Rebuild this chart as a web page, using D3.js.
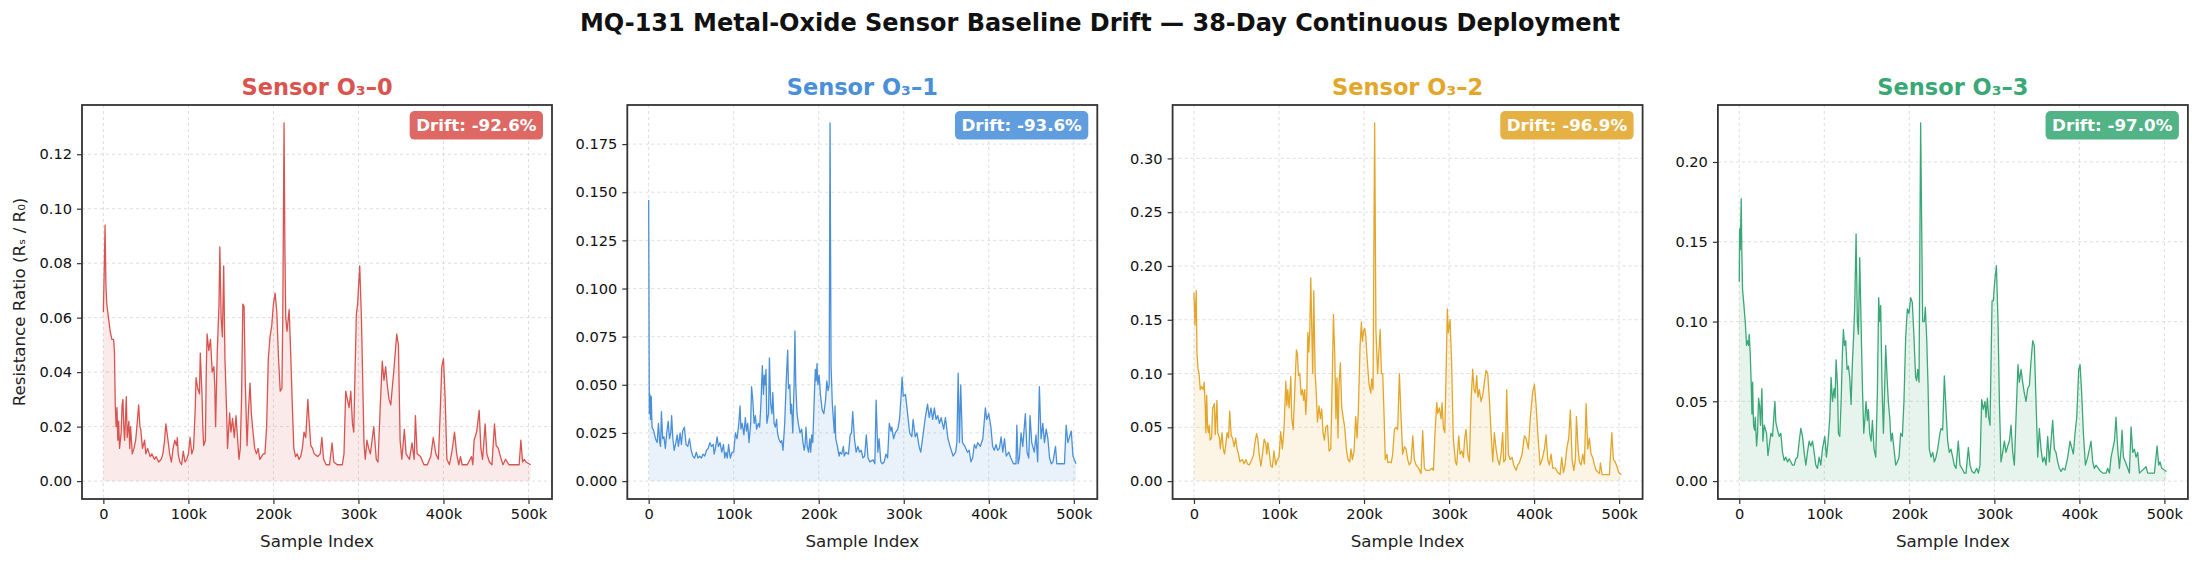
<!DOCTYPE html>
<html>
<head>
<meta charset="utf-8">
<script src="https://cdn.jsdelivr.net/npm/d3@7"></script>
<style>
  body { margin: 0; background: #fff; }
  svg { font-family: "DejaVu Sans", sans-serif; }
</style>
</head>
<body>
<svg id="chart" width="2200" height="563"></svg>
<script>
// sample index in thousands, resistance ratio Rs/R0
const sensor0 = [[0,0.062],[1,0.077],[2,0.094],[3,0.072],[4,0.065],[6,0.060],[8,0.055],[10,0.052],[12,0.052],[13,0.048],[14,0.028],[15,0.020],[16,0.027],[17,0.015],[18,0.022],[19,0.012],[21,0.018],[22,0.028],[23,0.030],[24,0.020],[25,0.015],[27,0.031],[28,0.016],[30,0.022],[31,0.012],[32,0.020],[34,0.010],[36,0.012],[38,0.015],[40,0.022],[41.5,0.028],[43,0.020],[44,0.019],[46,0.012],[48.5,0.015],[50,0.010],[52,0.012],[55,0.009],[57,0.010],[60,0.008],[62,0.009],[65,0.007],[68,0.008],[70,0.010],[72,0.015],[73.5,0.021],[76,0.015],[78,0.010],[80,0.007],[82,0.012],[84,0.015],[86,0.013],[87,0.016],[88,0.010],[90,0.007],[92,0.006],[94,0.011],[96,0.007],[98,0.008],[100,0.010],[102,0.016],[104,0.010],[106,0.012],[108,0.026],[109,0.038],[111,0.034],[113,0.032],[114,0.047],[116,0.032],[117,0.020],[118,0.013],[120,0.015],[121,0.040],[122,0.054],[124,0.048],[126,0.052],[128,0.040],[130,0.042],[131,0.035],[132,0.020],[134,0.048],[136,0.065],[137,0.086],[138.5,0.060],[140,0.053],[141.5,0.079],[143,0.045],[145,0.025],[146,0.012],[148.5,0.025],[150,0.018],[152,0.023],[154,0.016],[156,0.024],[159.5,0.008],[161,0.012],[162.5,0.030],[164,0.065],[165.5,0.064],[167,0.035],[169,0.013],[170.5,0.025],[172.5,0.036],[174,0.025],[176,0.018],[178,0.012],[180,0.010],[182,0.012],[184,0.008],[186,0.009],[188,0.010],[190,0.010],[192,0.020],[194,0.045],[196,0.053],[198,0.057],[200,0.065],[202,0.069],[204,0.062],[206,0.045],[208,0.033],[210,0.034],[211,0.060],[212.5,0.1315],[213.5,0.085],[214.5,0.060],[216,0.055],[218.5,0.063],[220,0.050],[222,0.030],[224,0.012],[226,0.009],[228,0.010],[230,0.008],[232,0.009],[234,0.012],[236,0.018],[238,0.016],[240.5,0.030],[242,0.022],[244,0.013],[246,0.012],[248,0.010],[252,0.009],[255,0.010],[257,0.016],[259,0.008],[262,0.006],[266,0.006],[269,0.014],[271,0.007],[275,0.006],[281,0.006],[283,0.010],[285,0.033],[287,0.030],[289,0.027],[291,0.033],[293,0.021],[294.5,0.018],[296,0.040],[297.5,0.061],[299,0.065],[301.5,0.079],[303.5,0.060],[306.5,0.014],[308,0.008],[310,0.015],[312,0.012],[314,0.010],[318,0.020],[321,0.008],[323,0.007],[326,0.030],[328,0.044],[330,0.037],[332,0.042],[334,0.035],[336,0.030],[338,0.028],[340,0.035],[342,0.042],[345,0.054],[347,0.050],[349,0.015],[351,0.008],[354,0.019],[356,0.010],[360,0.008],[363,0.014],[365.5,0.008],[367,0.024],[369,0.010],[373,0.009],[377,0.006],[381,0.006],[385,0.009],[388,0.016],[391,0.010],[394,0.008],[396,0.024],[398,0.042],[400,0.045],[402,0.030],[404,0.008],[407,0.006],[410,0.011],[413,0.018],[415.5,0.010],[418,0.006],[420,0.009],[422,0.006],[428,0.006],[433,0.009],[434.5,0.006],[436,0.015],[439,0.018],[442,0.026],[444,0.012],[446,0.008],[449,0.021],[451,0.010],[454,0.007],[457,0.006],[460,0.021],[462,0.013],[464.5,0.012],[467,0.009],[470,0.006],[473,0.008],[477,0.006],[485,0.006],[489,0.006],[491,0.015],[493,0.007],[495,0.008],[497,0.007],[502.5,0.006]];

const sensor1 = [[0,0.146],[0.8,0.035],[1.5,0.045],[2.2,0.032],[3,0.044],[4,0.028],[6,0.026],[8,0.022],[10,0.020],[11.5,0.030],[13,0.020],[14,0.018],[15,0.036],[16.5,0.022],[18,0.023],[19.6,0.017],[21.5,0.026],[23,0.031],[24.5,0.022],[26,0.025],[27,0.034],[28.5,0.022],[30,0.016],[32,0.020],[33.5,0.024],[35,0.018],[37,0.025],[38.5,0.019],[40,0.026],[42,0.028],[44,0.019],[46,0.018],[48,0.022],[50,0.016],[52,0.013],[54,0.012],[56,0.015],[58,0.012],[60,0.013],[62,0.012],[64,0.014],[66,0.013],[68,0.016],[70,0.017],[72,0.020],[74,0.018],[76,0.019],[77,0.014],[78.5,0.017],[80.5,0.023],[82,0.018],[84,0.020],[86,0.015],[88,0.019],[89.5,0.012],[91,0.015],[92.5,0.012],[94,0.019],[96,0.012],[98,0.015],[100,0.015],[102,0.025],[104,0.022],[106,0.030],[107.5,0.039],[108.5,0.027],[110,0.030],[112,0.024],[113.7,0.033],[115,0.026],[116.5,0.030],[118,0.020],[120,0.030],[121,0.049],[122.5,0.042],[124,0.030],[125.5,0.034],[127,0.027],[129,0.030],[130.5,0.028],[132,0.040],[133.7,0.060],[135,0.045],[136,0.055],[137,0.050],[138,0.058],[139,0.030],[141,0.035],[142,0.064],[143.5,0.040],[145,0.035],[146,0.046],[147.5,0.030],[149,0.028],[150.5,0.032],[151.5,0.025],[153,0.022],[155,0.020],[156.5,0.021],[158,0.016],[160,0.030],[162,0.054],[163.5,0.068],[164.5,0.048],[166,0.050],[167,0.035],[168,0.040],[169.5,0.025],[171,0.050],[172,0.078],[173,0.050],[174.5,0.035],[176,0.030],[178,0.025],[180,0.027],[181.5,0.020],[183,0.016],[184,0.019],[185,0.028],[186.5,0.018],[188,0.015],[189.5,0.022],[190.5,0.015],[191.8,0.024],[193,0.020],[195,0.046],[196,0.058],[197,0.052],[198,0.061],[199,0.050],[200.5,0.055],[202,0.045],[204,0.037],[206,0.035],[208,0.042],[209.5,0.052],[211,0.047],[212.3,0.050],[213.3,0.186],[214.5,0.060],[216,0.040],[218.4,0.025],[219.2,0.039],[220,0.022],[222,0.018],[224,0.013],[225,0.015],[227,0.014],[229,0.018],[230,0.013],[232,0.015],[235,0.014],[237,0.024],[238.5,0.025],[240,0.036],[242,0.022],[244,0.015],[246,0.018],[248,0.015],[250,0.016],[252,0.012],[254,0.013],[256,0.024],[258,0.012],[260,0.010],[264,0.011],[266,0.009],[267.5,0.042],[269.5,0.015],[271,0.022],[273,0.010],[275,0.009],[277,0.010],[279,0.014],[281,0.012],[283,0.030],[285,0.026],[286,0.028],[288,0.022],[290,0.025],[293,0.027],[295,0.032],[297,0.045],[298,0.054],[299.5,0.044],[302,0.045],[304.5,0.035],[307,0.025],[309.5,0.023],[311,0.032],[313.5,0.023],[315.5,0.025],[318,0.018],[320,0.015],[323,0.025],[325,0.032],[328,0.040],[330,0.033],[332,0.038],[334,0.032],[336,0.038],[338,0.032],[340,0.034],[342,0.030],[344,0.033],[347,0.027],[349,0.033],[352,0.022],[354.5,0.018],[358,0.013],[361,0.015],[362.5,0.020],[364,0.056],[365.5,0.020],[367,0.050],[369,0.020],[372,0.018],[375,0.015],[377,0.016],[379,0.010],[381,0.012],[383,0.019],[385,0.017],[387,0.020],[390,0.018],[393,0.022],[396,0.038],[397.5,0.032],[400,0.035],[402.5,0.028],[404.5,0.018],[406.5,0.016],[408.5,0.019],[410.5,0.016],[412.5,0.017],[414.5,0.023],[416.5,0.015],[418.5,0.022],[420.5,0.013],[423.5,0.015],[426,0.012],[429,0.009],[432,0.009],[433,0.029],[434.5,0.009],[436,0.012],[438,0.025],[440,0.018],[443,0.035],[445,0.015],[447,0.012],[448.5,0.034],[450.5,0.020],[453.5,0.015],[455.5,0.024],[457.5,0.010],[459.5,0.049],[461.5,0.022],[463.5,0.030],[465.5,0.020],[467.5,0.027],[469.5,0.022],[471.5,0.012],[473.5,0.009],[475.5,0.010],[478.5,0.018],[480,0.009],[483,0.009],[489,0.009],[491,0.029],[493,0.020],[495,0.023],[497,0.026],[499,0.013],[502.5,0.009]];

const sensor2 = [[0,0.175],[1.2,0.145],[2.7,0.177],[3.5,0.120],[4.7,0.105],[6,0.100],[7.4,0.085],[9,0.088],[11,0.085],[12,0.092],[13.3,0.068],[14,0.045],[15,0.080],[16,0.050],[17,0.045],[18,0.052],[19,0.038],[20.7,0.040],[22,0.068],[24,0.072],[25,0.043],[27,0.075],[28,0.045],[30,0.040],[31,0.030],[33,0.045],[34.5,0.030],[36,0.025],[37.5,0.035],[39,0.045],[40.7,0.040],[42,0.065],[43.8,0.042],[45.4,0.040],[47.3,0.032],[49,0.040],[50.8,0.030],[52.4,0.025],[54,0.018],[57,0.020],[59,0.016],[61,0.020],[63,0.016],[65,0.015],[68,0.020],[70,0.024],[71.6,0.035],[73.6,0.044],[75,0.040],[76.7,0.025],[78.7,0.014],[80.6,0.025],[82.6,0.039],[84.5,0.035],[85.7,0.025],[86.9,0.036],[88.4,0.028],[90.4,0.014],[92.3,0.013],[94,0.028],[96.2,0.015],[98,0.020],[100,0.022],[102,0.046],[104,0.030],[106,0.050],[108,0.093],[109.2,0.070],[110.3,0.085],[111.9,0.068],[113.9,0.097],[115,0.058],[116.7,0.048],[118.6,0.085],[120.5,0.122],[121.7,0.118],[122.9,0.098],[124.5,0.100],[126,0.080],[127.6,0.085],[129,0.075],[130.3,0.085],[131.5,0.062],[132.7,0.080],[133.9,0.138],[135,0.120],[136.2,0.140],[137.4,0.189],[138.6,0.140],[139.7,0.100],[140.9,0.177],[142.5,0.100],[144,0.080],[145.2,0.055],[147.1,0.070],[148.7,0.058],[150.3,0.067],[151.8,0.045],[153.4,0.038],[155,0.050],[157,0.052],[158.9,0.028],[160.9,0.030],[162.8,0.100],[164,0.155],[165.5,0.120],[167,0.058],[168.2,0.096],[169.4,0.040],[170.6,0.090],[172.2,0.110],[173.7,0.070],[175.3,0.060],[177.3,0.050],[179.2,0.030],[181.2,0.020],[183.2,0.018],[184.7,0.030],[186.3,0.020],[188.3,0.028],[190.2,0.060],[191.8,0.040],[193.3,0.065],[195.3,0.125],[196.9,0.148],[198.1,0.130],[199.6,0.140],[200.8,0.142],[202,0.135],[204,0.110],[205.9,0.090],[207.9,0.082],[209,0.095],[210.6,0.085],[212.5,0.333],[214,0.140],[216,0.100],[219,0.141],[220.4,0.100],[222,0.100],[224,0.050],[225,0.020],[227,0.025],[228,0.017],[230,0.018],[232,0.017],[233.7,0.025],[235.7,0.048],[237.6,0.050],[239.6,0.048],[241.6,0.100],[243.5,0.060],[245.5,0.025],[247.5,0.032],[249.4,0.030],[251.4,0.020],[253.3,0.015],[255.3,0.018],[257.3,0.042],[259.2,0.020],[261.2,0.015],[264.3,0.012],[267,0.007],[269,0.047],[271,0.012],[273,0.010],[277,0.010],[280,0.012],[281.6,0.010],[283.5,0.045],[285.5,0.073],[286.7,0.063],[288.6,0.068],[290.6,0.058],[291.8,0.073],[293.3,0.050],[295,0.045],[296.5,0.100],[298,0.160],[299.2,0.138],[301.2,0.150],[303,0.110],[305,0.040],[307.5,0.018],[309,0.015],[311.4,0.042],[313,0.025],[315,0.028],[316.9,0.022],[318.4,0.040],[320,0.048],[322,0.025],[323.9,0.018],[325.9,0.075],[327.8,0.104],[329.4,0.085],[331,0.082],[332.5,0.098],[334,0.078],[335.7,0.085],[337.6,0.074],[339.6,0.080],[341.6,0.092],[343.5,0.103],[345.5,0.100],[347.5,0.075],[349.4,0.045],[351.4,0.018],[353.3,0.045],[355.3,0.030],[357.3,0.020],[359.2,0.015],[361.2,0.025],[363.1,0.045],[364.3,0.018],[366.3,0.020],[367.8,0.085],[369.8,0.025],[371.8,0.020],[374.1,0.022],[376,0.015],[378.8,0.010],[380.8,0.015],[382.7,0.017],[385.9,0.025],[388.6,0.042],[390.6,0.040],[393.3,0.030],[395.7,0.060],[398.4,0.083],[400.4,0.090],[402.4,0.070],[404.3,0.045],[407,0.015],[409.4,0.020],[412.2,0.030],[414.1,0.043],[416.1,0.020],[418,0.015],[420,0.025],[422,0.012],[425,0.012],[427.8,0.008],[430.6,0.006],[432.5,0.022],[434.5,0.008],[436.5,0.015],[438.4,0.030],[440.8,0.040],[442.7,0.066],[444.7,0.020],[446.7,0.010],[448.6,0.020],[449.8,0.060],[451.8,0.030],[453.3,0.018],[455.3,0.015],[457.3,0.025],[459.2,0.016],[461.2,0.072],[463.1,0.030],[465,0.040],[467,0.025],[469,0.022],[471,0.015],[473,0.010],[476.9,0.007],[478,0.017],[480,0.006],[488.6,0.006],[491.4,0.045],[493.3,0.020],[495.3,0.018],[497.3,0.014],[499.6,0.008],[502.5,0.006]];

const sensor3 = [[0,0.125],[0.4,0.158],[1.2,0.145],[2.3,0.177],[3.1,0.140],[3.9,0.120],[5.5,0.110],[7,0.100],[8.6,0.085],[9.8,0.088],[11,0.085],[11.7,0.092],[12.9,0.080],[14.1,0.060],[14.9,0.042],[15.7,0.062],[16.8,0.035],[18,0.032],[18.8,0.040],[20.4,0.022],[21.5,0.030],[22.7,0.052],[23.9,0.047],[25,0.035],[26.6,0.058],[27.8,0.025],[29.4,0.035],[30.5,0.033],[32.1,0.030],[33.7,0.016],[35.2,0.022],[37.2,0.030],[39.1,0.028],[41.9,0.050],[43,0.037],[45,0.032],[47,0.028],[48.9,0.030],[50.9,0.018],[52.8,0.013],[54.8,0.015],[56.8,0.012],[58.7,0.014],[60.7,0.012],[62.6,0.010],[64.6,0.010],[66.5,0.014],[68.5,0.015],[70.5,0.025],[72.4,0.033],[74.4,0.028],[76.3,0.018],[78.3,0.010],[80.2,0.018],[82.2,0.025],[84.1,0.022],[86.1,0.025],[88.1,0.018],[90,0.010],[92,0.008],[93.9,0.015],[95.9,0.010],[97.8,0.020],[100.6,0.028],[102.5,0.015],[104.5,0.025],[106.5,0.040],[108,0.065],[109.6,0.050],[111.5,0.058],[112.7,0.052],[113.9,0.076],[115.5,0.060],[116.6,0.030],[118.2,0.028],[119.8,0.050],[121.3,0.080],[122.5,0.095],[123.7,0.085],[125.2,0.088],[126.8,0.070],[128.4,0.072],[129.9,0.065],[131.5,0.048],[133.1,0.075],[134.6,0.092],[135.8,0.110],[137.4,0.155],[138.9,0.100],[140.1,0.092],[141.7,0.140],[143.2,0.100],[144.8,0.060],[146.4,0.030],[147.9,0.040],[149.1,0.050],[150.7,0.038],[151.9,0.045],[153.4,0.030],[155,0.025],[156.6,0.038],[158.5,0.020],[160.5,0.015],[162.4,0.055],[164,0.115],[165.2,0.100],[166.3,0.110],[167.9,0.060],[169.5,0.030],[170.6,0.050],[172.2,0.085],[173.8,0.065],[175.3,0.050],[176.9,0.040],[178.5,0.025],[180,0.030],[182,0.020],[184,0.010],[185.9,0.012],[187.9,0.015],[189.8,0.030],[191.8,0.028],[193.7,0.050],[195.7,0.090],[197.7,0.108],[199.6,0.105],[201.6,0.115],[203.5,0.112],[205.5,0.090],[207.4,0.065],[208.6,0.063],[209.8,0.070],[211.4,0.062],[213.3,0.2245],[215.7,0.100],[217.6,0.100],[218.8,0.109],[220.4,0.090],[222,0.060],[223.5,0.020],[225.5,0.015],[227.5,0.018],[229.4,0.012],[231.4,0.015],[233.3,0.020],[236,0.030],[237.3,0.033],[239.2,0.032],[241.2,0.066],[243.1,0.045],[245.1,0.025],[247,0.018],[249,0.020],[251,0.015],[252.9,0.010],[254.9,0.008],[257.6,0.025],[259.6,0.010],[261.9,0.008],[264.7,0.005],[266.7,0.005],[269.4,0.021],[271.4,0.010],[273.7,0.006],[276.5,0.005],[279.2,0.008],[281.2,0.005],[283.1,0.010],[285.1,0.051],[287,0.045],[289,0.050],[290.2,0.040],[291.8,0.052],[293.3,0.040],[294.9,0.035],[297.3,0.113],[298.8,0.113],[300.4,0.125],[302.4,0.135],[304.3,0.100],[305.9,0.050],[307.8,0.012],[309.8,0.018],[311.8,0.025],[313.7,0.018],[315.7,0.022],[317.6,0.025],[319.6,0.035],[321.6,0.018],[323.5,0.010],[325.5,0.040],[327.8,0.073],[329.4,0.062],[331.4,0.070],[333.3,0.062],[335.3,0.055],[337.3,0.050],[339.2,0.058],[341.2,0.060],[343.1,0.075],[345.1,0.088],[347,0.085],[349,0.050],[351,0.015],[352.9,0.033],[354.9,0.020],[356.9,0.012],[358.8,0.015],[360.8,0.010],[362.7,0.028],[364.7,0.012],[368.6,0.038],[370.6,0.020],[372.5,0.018],[374.5,0.012],[376.5,0.008],[378.4,0.006],[380.4,0.008],[383.1,0.007],[386.3,0.015],[389,0.025],[391.4,0.020],[392.9,0.017],[394.9,0.030],[396.9,0.040],[399.2,0.070],[400.8,0.073],[402.7,0.055],[404.7,0.030],[407.1,0.010],[409.8,0.015],[411.8,0.020],[413.7,0.025],[415.7,0.012],[417.6,0.008],[419.6,0.010],[423.5,0.007],[427.5,0.005],[431.4,0.005],[433.3,0.008],[435.3,0.005],[437.3,0.015],[439.2,0.020],[441.2,0.025],[443.1,0.040],[445.1,0.020],[447.1,0.008],[449,0.020],[450.2,0.032],[451.8,0.015],[454.1,0.012],[456.9,0.008],[458.8,0.005],[460.8,0.034],[462.7,0.018],[464.7,0.020],[466.7,0.015],[468.6,0.018],[470.6,0.005],[478.4,0.009],[480.4,0.005],[488.2,0.005],[491.4,0.022],[493.3,0.010],[494.9,0.012],[496.9,0.008],[502.5,0.006]];

const series = [sensor0, sensor1, sensor2, sensor3];
const titles = ["Sensor O\u2083\u20130", "Sensor O\u2083\u20131", "Sensor O\u2083\u20132", "Sensor O\u2083\u20133"];
const drifts = ["Drift: -92.6%", "Drift: -93.6%", "Drift: -96.9%", "Drift: -97.0%"];
const colors = ["#d9534f", "#4a90d9", "#e3a62a", "#3aa876"];
const yTicks = [
    [0, 0.02, 0.04, 0.06, 0.08, 0.10, 0.12],
    [0, 0.025, 0.05, 0.075, 0.1, 0.125, 0.15, 0.175],
    [0, 0.05, 0.10, 0.15, 0.20, 0.25, 0.30],
    [0, 0.05, 0.10, 0.15, 0.20]
];
const yDecimals = [2, 3, 2, 2];
const xTicks = [0, 100000, 200000, 300000, 400000, 500000];

const svg = d3.select('#chart');
const panelW = 470, plotTop = 105, plotBottom = 499;

svg.append('text')
    .attr('x', 1100).attr('y', 31)
    .attr('text-anchor', 'middle')
    .attr('font-size', 24).attr('font-weight', 'bold')
    .attr('fill', '#111')
    .text('MQ-131 Metal-Oxide Sensor Baseline Drift \u2014 38-Day Continuous Deployment');

series.forEach((raw, i) => {
    const data = raw.map(d => ({ x: d[0] * 1000, y: d[1] }));
    const left = 82 + i * 545.3;
    const g = svg.append('g').attr('transform', `translate(${left},0)`);

    const xExt = d3.extent(data, d => d.x);
    const xPad = (xExt[1] - xExt[0]) * 0.05;
    const x = d3.scaleLinear().domain([xExt[0] - xPad, xExt[1] + xPad]).range([0, panelW]);
    const yMax = d3.max(data, d => d.y);
    const y = d3.scaleLinear().domain([-0.05 * yMax, 1.05 * yMax]).range([plotBottom, plotTop]);

    // grid
    g.append('g').selectAll('line').data(xTicks).join('line')
        .attr('x1', d => x(d)).attr('x2', d => x(d))
        .attr('y1', plotTop).attr('y2', plotBottom)
        .attr('stroke', '#d6d6d6').attr('stroke-width', 0.8).attr('stroke-dasharray', '3,3');
    g.append('g').selectAll('line').data(yTicks[i]).join('line')
        .attr('x1', 0).attr('x2', panelW)
        .attr('y1', d => y(d)).attr('y2', d => y(d))
        .attr('stroke', '#d6d6d6').attr('stroke-width', 0.8).attr('stroke-dasharray', '3,3');

    const area = d3.area().x(d => x(d.x)).y0(y(0)).y1(d => y(d.y));
    g.append('path').datum(data).attr('d', area)
        .attr('fill', colors[i]).attr('fill-opacity', 0.12);

    const line = d3.line().x(d => x(d.x)).y(d => y(d.y));
    g.append('path').datum(data).attr('d', line)
        .attr('fill', 'none').attr('stroke', colors[i]).attr('stroke-width', 1.3)
        .attr('stroke-linejoin', 'round');

    // axes
    const xAxis = d3.axisBottom(x).tickValues(xTicks).tickSize(5).tickPadding(5)
        .tickFormat(d => d === 0 ? '0' : (d / 1000) + 'k');
    const gx = g.append('g').attr('transform', `translate(0,${plotBottom})`).call(xAxis);
    const yAxis = d3.axisLeft(y).tickValues(yTicks[i]).tickSize(5).tickPadding(5)
        .tickFormat(d3.format(`.${yDecimals[i]}f`));
    const gy = g.append('g').call(yAxis);
    [gx, gy].forEach(a => {
        a.select('.domain').remove();
        a.selectAll('line').attr('stroke', '#333').attr('stroke-width', 1.2);
        a.selectAll('text').attr('font-size', 14.6).attr('fill', '#111')
            .attr('font-family', '"DejaVu Sans", sans-serif');
    });

    g.append('rect')
        .attr('x', 0).attr('y', plotTop).attr('width', panelW).attr('height', plotBottom - plotTop)
        .attr('fill', 'none').attr('stroke', '#333').attr('stroke-width', 1.8);

    g.append('text')
        .attr('x', panelW / 2).attr('y', 95)
        .attr('text-anchor', 'middle')
        .attr('font-size', 22.5).attr('font-weight', 'bold')
        .attr('fill', colors[i])
        .text(titles[i]);

    g.append('text')
        .attr('x', panelW / 2).attr('y', 547)
        .attr('text-anchor', 'middle')
        .attr('font-size', 16.7).attr('fill', '#222')
        .text('Sample Index');

    // drift badge
    const badge = g.append('g');
    const bt = badge.append('text')
        .attr('font-size', 16.7).attr('font-weight', 'bold')
        .attr('fill', '#fff').attr('text-anchor', 'end')
        .text(drifts[i]);
    const tw = bt.node().getComputedTextLength();
    const bRight = panelW - 9, bTop = plotTop + 6, bh = 28.6;
    badge.insert('rect', 'text')
        .attr('x', bRight - tw - 13).attr('y', bTop)
        .attr('width', tw + 13).attr('height', bh)
        .attr('rx', 5).attr('fill', colors[i]).attr('fill-opacity', 0.88);
    bt.attr('x', bRight - 6.5).attr('y', bTop + bh / 2 + 6);
});

svg.append('text')
    .attr('transform', `translate(25,302) rotate(-90)`)
    .attr('text-anchor', 'middle')
    .attr('font-size', 16.7).attr('fill', '#222')
    .text('Resistance Ratio (R\u209B / R\u2080)');
</script>
</body>
</html>
